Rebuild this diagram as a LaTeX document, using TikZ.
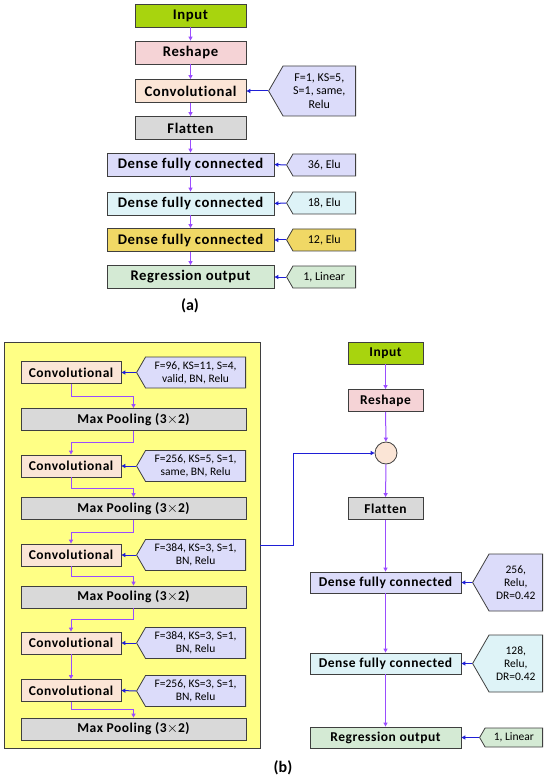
\documentclass[tikz,border=0pt]{standalone}
\usepackage{fontspec}
\setmainfont{Carlito}
\newfontfamily\spacedfont[LetterSpace=4,Ligatures=CommonOff]{Carlito}
\usepackage{xcolor}
\usetikzlibrary{shapes.symbols,arrows.meta}

\definecolor{boxline}{HTML}{3F3F3F}
\definecolor{inputgreen}{HTML}{A8D40E}
\definecolor{reshapepink}{HTML}{F5D3D6}
\definecolor{convpeach}{HTML}{FBE5D6}
\definecolor{flatgray}{HTML}{D9D9D9}
\definecolor{denselav}{HTML}{DCDCFA}
\definecolor{densecyan}{HTML}{DEF3F7}
\definecolor{densegold}{HTML}{F0D865}
\definecolor{reggreen}{HTML}{D4EAD4}
\definecolor{panelyellow}{HTML}{FFFF85}
\definecolor{flowpurple}{HTML}{9A4DFF}
\definecolor{feedblue}{HTML}{1F1FD6}

\begin{document}
\begin{tikzpicture}[x=1pt,y=-1pt,
  box/.style={draw=boxline,line width=0.8pt,minimum height=23pt,inner sep=0pt,
    font=\spacedfont\fontsize{14.7}{16}\selectfont\bfseries},
  boxb/.style={box,minimum height=22pt,font=\spacedfont\fontsize{13.5}{15}\selectfont\bfseries},
  note/.style={shape=signal,signal to=west,signal pointer angle=120,draw=boxline,
    line width=0.8pt,align=center,inner sep=1pt,anchor=east,
    font=\fontsize{12}{13.5}\selectfont},
  noteb/.style={note,font=\fontsize{11.5}{13}\selectfont},
  flow/.style={draw=flowpurple,line width=1pt,-{Triangle[length=4pt,width=4pt]}},
  feed/.style={draw=feedblue,line width=1pt,-{Triangle[length=4pt,width=4pt]}}]
\useasboundingbox (0,0) rectangle (550,783);

% (a) single branch
\node[box,fill=inputgreen,minimum width=111pt] (inA) at (190.5,15.5) {Input};
\node[box,fill=reshapepink,minimum width=111pt] (reshA) at (190.5,52.5) {Reshape};
\node[box,fill=convpeach,minimum width=111pt] (convA) at (190.5,91) {Convolutional};
\node[box,fill=flatgray,minimum width=111pt] (flatA) at (190.5,128) {Flatten};
\node[box,fill=denselav,minimum width=167pt] (denseA1) at (190.5,164.5) {Dense fully connected};
\node[box,fill=densecyan,minimum width=167pt] (denseA2) at (190.5,203.5) {Dense fully connected};
\node[box,fill=densegold,minimum width=167pt] (denseA3) at (190.5,240) {Dense fully connected};
\node[box,fill=reggreen,minimum width=167pt] (regA) at (190.5,277) {Regression output};

% (a) parameters
\node[note,fill=denselav,minimum width=87pt,minimum height=50pt] (noteA0) at (356,91) {F=1, KS=5,\\S=1, same,\\Relu};
\node[note,fill=denselav,minimum width=69pt,minimum height=22pt] (noteA1) at (356,165) {36, Elu};
\node[note,fill=densecyan,minimum width=69pt,minimum height=22pt] (noteA2) at (356,203) {18, Elu};
\node[note,fill=densegold,minimum width=69pt,minimum height=22pt] (noteA3) at (356,240) {12, Elu};
\node[note,fill=reggreen,minimum width=69pt,minimum height=22pt] (noteA4) at (356,277) {1, Linear};

\foreach \a/\b in {inA/reshA,reshA/convA,convA/flatA,flatA/denseA1,denseA1/denseA2,denseA2/denseA3,denseA3/regA}
  \draw[flow] (\a) -- (\b);
\foreach \n/\b in {noteA0/convA,noteA1/denseA1,noteA2/denseA2,noteA3/denseA3,noteA4/regA}
  \draw[feed] (\n.west) -- (\b.east);

\node[font=\fontsize{16}{18}\selectfont\bfseries] (labA) at (190,306) {(a)};

% (b) convolution panel
\node[draw=boxline,line width=0.8pt,fill=panelyellow,minimum width=256pt,minimum height=406pt] (panel) at (132,545) {};

\foreach \name/\y in {c1/372.5,c2/466,c3/555,c4/643,c5/690.5}
  \node[boxb,fill=convpeach,minimum width=100pt] (\name) at (71,\y) {Convolutional};
\foreach \name/\y in {p1/419.5,p2/508.5,p3/597,p4/729}
  \node[boxb,fill=flatgray,minimum width=225pt] (\name) at (133.5,\y) {Max Pooling (3$\times$2)};

\node[noteb,fill=denselav,minimum width=109pt,minimum height=31pt] (n1) at (246,372.5) {F=96, KS=11, S=4,\\valid, BN, Relu};
\node[noteb,fill=denselav,minimum width=109pt,minimum height=31pt] (n2) at (246,466) {F=256, KS=5, S=1,\\same, BN, Relu};
\node[noteb,fill=denselav,minimum width=109pt,minimum height=31pt] (n3) at (246,555) {F=384, KS=3, S=1,\\BN, Relu};
\node[noteb,fill=denselav,minimum width=109pt,minimum height=31pt] (n4) at (246,643) {F=384, KS=3, S=1,\\BN, Relu};
\node[noteb,fill=denselav,minimum width=109pt,minimum height=31pt] (n5) at (246,691) {F=256, KS=3, S=1,\\BN, Relu};
\foreach \n/\b in {n1/c1,n2/c2,n3/c3,n4/c4,n5/c5}
  \draw[feed] (\n.west) -- (\b.east);

% elbow connectors inside the panel
\draw[flow] (c1.south) -- ++(0,13) -| (p1.north);
\draw[flow] (p1.south) -- ++(0,12) -| (c2.north);
\draw[flow] (c2.south) -- ++(0,11) -| (p2.north);
\draw[flow] (p2.south) -- ++(0,13) -| (c3.north);
\draw[flow] (c3.south) -- ++(0,10) -| (p3.north);
\draw[flow] (p3.south) -- ++(0,11) -| (c4.north);
\draw[flow] (c4) -- (c5);
\draw[flow] (c5.south) -- ++(0,8) -| (p4.north);

% (b) main branch
\node[boxb,fill=inputgreen,minimum width=75pt] (inB) at (385.5,353) {Input};
\node[boxb,fill=reshapepink,minimum width=75pt] (reshB) at (385.5,400.5) {Reshape};
\node[circle,draw=boxline,line width=0.8pt,fill=convpeach,minimum size=22pt,inner sep=0pt] (mix) at (386,453) {};
\node[boxb,fill=flatgray,minimum width=75pt] (flatB) at (385.5,508.5) {Flatten};
\node[boxb,fill=denselav,minimum width=151pt,minimum height=21pt] (denseB1) at (385.5,582.5) {Dense fully connected};
\node[boxb,fill=densecyan,minimum width=151pt,minimum height=21pt] (denseB2) at (385.5,663.5) {Dense fully connected};
\node[boxb,fill=reggreen,minimum width=151pt,minimum height=21pt] (regB) at (385.5,737.5) {Regression output};

\node[noteb,fill=denselav,minimum width=70pt,minimum height=57pt] (nB1) at (543,582.5) {256,\\Relu,\\DR=0.42};
\node[noteb,fill=densecyan,minimum width=70pt,minimum height=57pt] (nB2) at (543,663.5) {128,\\Relu,\\DR=0.42};
\node[noteb,fill=reggreen,minimum width=63pt,minimum height=19pt] (nB3) at (543,737.5) {1, Linear};

\foreach \a/\b in {inB/reshB,reshB/mix,mix/flatB,flatB/denseB1,denseB1/denseB2,denseB2/regB}
  \draw[flow] (\a) -- (\b);
\foreach \n/\b in {nB1/denseB1,nB2/denseB2,nB3/regB}
  \draw[feed] (\n.west) -- (\b.east);

% panel output joins the main branch
\draw[feed] (panel.east) -- ++(33,0) |- (mix.west);

\node[font=\fontsize{16}{18}\selectfont\bfseries] (labB) at (283,768) {(b)};
\end{tikzpicture}
\end{document}
